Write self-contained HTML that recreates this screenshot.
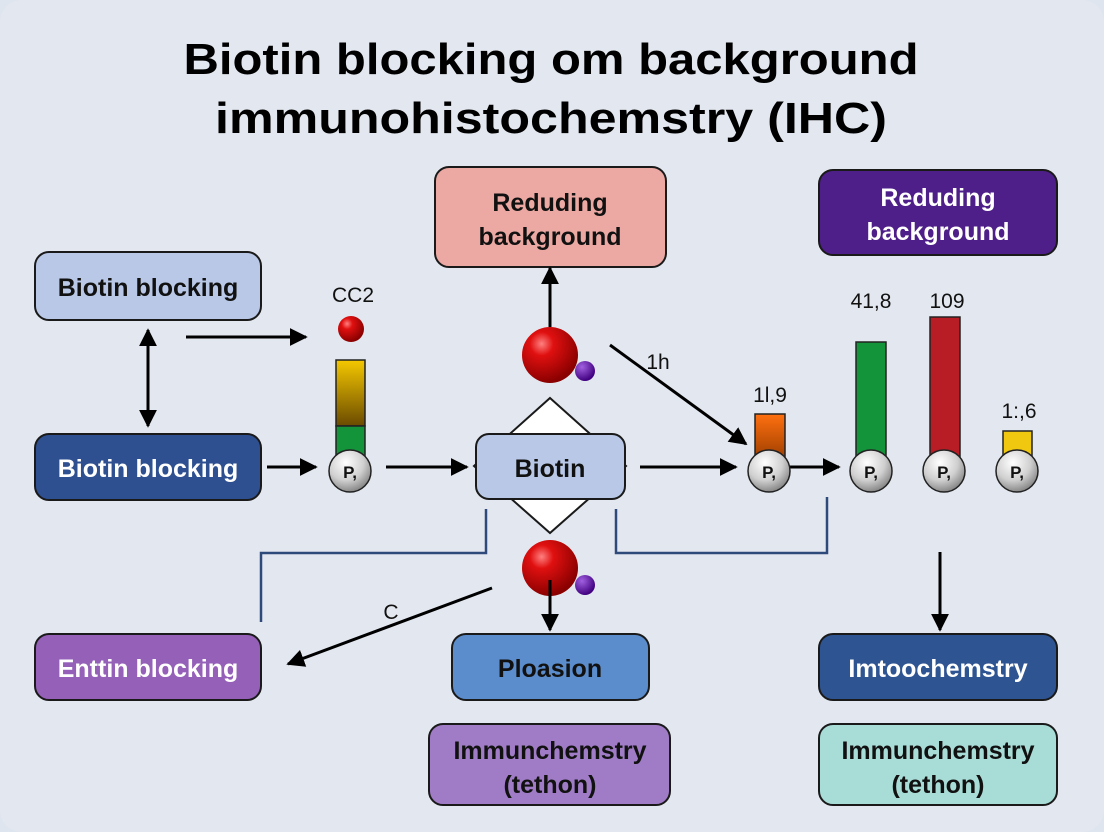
<!DOCTYPE html>
<html><head><meta charset="utf-8"><style>
html,body{margin:0;padding:0;background:#dfe5ee;}
svg{display:block;}
text{font-family:"Liberation Sans",sans-serif;}
</style></head><body>
<svg width="1104" height="832" viewBox="0 0 1104 832" xmlns="http://www.w3.org/2000/svg">
<defs>
<marker id="ah" viewBox="0 0 10 10" refX="9" refY="5" markerWidth="6" markerHeight="6" orient="auto-start-reverse"><path d="M0,0 L10,5 L0,10 z" fill="#000"/></marker>
<radialGradient id="red" cx="0.35" cy="0.3" r="0.7"><stop offset="0" stop-color="#ff8080"/><stop offset="0.3" stop-color="#e01010"/><stop offset="1" stop-color="#8a0000"/></radialGradient>
<radialGradient id="pur" cx="0.35" cy="0.3" r="0.7"><stop offset="0" stop-color="#a060e0"/><stop offset="1" stop-color="#400080"/></radialGradient>
<radialGradient id="gry" cx="0.4" cy="0.3" r="0.7"><stop offset="0" stop-color="#ffffff"/><stop offset="0.6" stop-color="#d0d0d0"/><stop offset="1" stop-color="#888"/></radialGradient>
<linearGradient id="yb" x1="0" y1="0" x2="0" y2="1"><stop offset="0" stop-color="#f5c800"/><stop offset="1" stop-color="#6a4a00"/></linearGradient>
<linearGradient id="ob" x1="0" y1="0" x2="0" y2="1"><stop offset="0" stop-color="#ff7010"/><stop offset="1" stop-color="#a04000"/></linearGradient>
</defs>
<rect x="0" y="0" width="1104" height="832" rx="22" fill="#e3e8f0"/>
<text x="551" y="74" font-size="44" font-weight="bold" text-anchor="middle" textLength="735" lengthAdjust="spacingAndGlyphs">Biotin blocking om background</text>
<text x="551" y="133" font-size="44" font-weight="bold" text-anchor="middle" textLength="672" lengthAdjust="spacingAndGlyphs">immunohistochemstry (IHC)</text>

<g stroke="#1a1a1a" stroke-width="2">
<rect x="35" y="252" width="226" height="68" rx="14" fill="#b8c8e6"/>
<rect x="35" y="434" width="226" height="66" rx="14" fill="#2e5090"/>
<rect x="35" y="634" width="226" height="66" rx="14" fill="#9560b8"/>
<rect x="435" y="167" width="231" height="100" rx="14" fill="#eca8a2"/>
<rect x="819" y="170" width="238" height="85" rx="14" fill="#4e1f88"/>
<polygon points="550,398 626,466 550,533 474,466" fill="#fff"/>
<rect x="476" y="434" width="149" height="65" rx="13" fill="#b8c8e6"/>
<rect x="452" y="634" width="197" height="66" rx="14" fill="#5b8ccc"/>
<rect x="429" y="724" width="241" height="81" rx="14" fill="#a07cc6"/>
<rect x="819" y="634" width="238" height="66" rx="14" fill="#2f5492"/>
<rect x="819" y="724" width="238" height="81" rx="14" fill="#a8dcd6"/>
</g>

<g font-weight="bold" font-size="25" text-anchor="middle">
<text x="148" y="296" fill="#111">Biotin blocking</text>
<text x="148" y="477" fill="#fff">Biotin blocking</text>
<text x="148" y="677" fill="#fff">Enttin blocking</text>
<text x="550" y="211" fill="#111">Reduding</text>
<text x="550" y="245" fill="#111">background</text>
<text x="938" y="206" fill="#fff">Reduding</text>
<text x="938" y="240" fill="#fff">background</text>
<text x="550" y="477" fill="#111">Biotin</text>
<text x="550" y="677" fill="#111">Ploasion</text>
<text x="550" y="759" fill="#111">Immunchemstry</text>
<text x="550" y="793" fill="#111">(tethon)</text>
<text x="938" y="677" fill="#fff">Imtoochemstry</text>
<text x="938" y="759" fill="#111">Immunchemstry</text>
<text x="938" y="793" fill="#111">(tethon)</text>
</g>

<g stroke="#000" stroke-width="3" fill="none">
<line x1="148" y1="330" x2="148" y2="426" marker-start="url(#ah)" marker-end="url(#ah)"/>
<line x1="186" y1="337" x2="306" y2="337" marker-end="url(#ah)"/>
<line x1="267" y1="467" x2="316" y2="467" marker-end="url(#ah)"/>
<line x1="386" y1="467" x2="467" y2="467" marker-end="url(#ah)"/>
<line x1="550" y1="327" x2="550" y2="268" marker-end="url(#ah)"/>
<line x1="610" y1="345" x2="746" y2="444" marker-end="url(#ah)"/>
<line x1="640" y1="467" x2="736" y2="467" marker-end="url(#ah)"/>
<line x1="790" y1="467" x2="839" y2="467" marker-end="url(#ah)"/>
<line x1="492" y1="588" x2="288" y2="664" marker-end="url(#ah)"/>
<line x1="550" y1="580" x2="550" y2="630" marker-end="url(#ah)"/>
<line x1="940" y1="552" x2="940" y2="630" marker-end="url(#ah)"/>
</g>
<g stroke="#2e4a7a" stroke-width="2.5" fill="none">
<polyline points="486,509 486,553 261,553 261,622"/>
<polyline points="616,509 616,553 827,553 827,497"/>
</g>

<g stroke="#222" stroke-width="1.5">
<rect x="336" y="360" width="29" height="66" fill="url(#yb)"/>
<rect x="336" y="426" width="29" height="30" fill="#14943a"/>
<rect x="755" y="414" width="30" height="44" fill="url(#ob)"/>
<rect x="856" y="342" width="30" height="116" fill="#14943a"/>
<rect x="930" y="317" width="30" height="141" fill="#b81c24"/>
<rect x="1003" y="431" width="29" height="27" fill="#f0c810"/>
</g>
<g stroke="#222" stroke-width="1.5" fill="url(#gry)">
<circle cx="350" cy="471" r="21"/>
<circle cx="769" cy="471" r="21"/>
<circle cx="871" cy="471" r="21"/>
<circle cx="944" cy="471" r="21"/>
<circle cx="1017" cy="471" r="21"/>
</g>
<g font-size="17" font-weight="bold" text-anchor="middle" fill="#111">
<text x="350" y="478">P,</text><text x="769" y="478">P,</text><text x="871" y="478">P,</text><text x="944" y="478">P,</text><text x="1017" y="478">P,</text>
</g>
<circle cx="351" cy="329" r="13" fill="url(#red)"/>

<circle cx="550" cy="355" r="28" fill="url(#red)"/>
<circle cx="585" cy="371" r="10" fill="url(#pur)"/>
<circle cx="550" cy="568" r="28" fill="url(#red)"/>
<circle cx="585" cy="585" r="10" fill="url(#pur)"/>
<line x1="550" y1="580" x2="550" y2="600" stroke="#000" stroke-width="3"/>

<g font-size="21" fill="#111" text-anchor="middle">
<text x="353" y="302">CC2</text>
<text x="658" y="369">1h</text>
<text x="770" y="402">1l,9</text>
<text x="871" y="308">41,8</text>
<text x="947" y="308">109</text>
<text x="1019" y="418">1:,6</text>
<text x="391" y="619">C</text>
</g>
</svg>
</body></html>
